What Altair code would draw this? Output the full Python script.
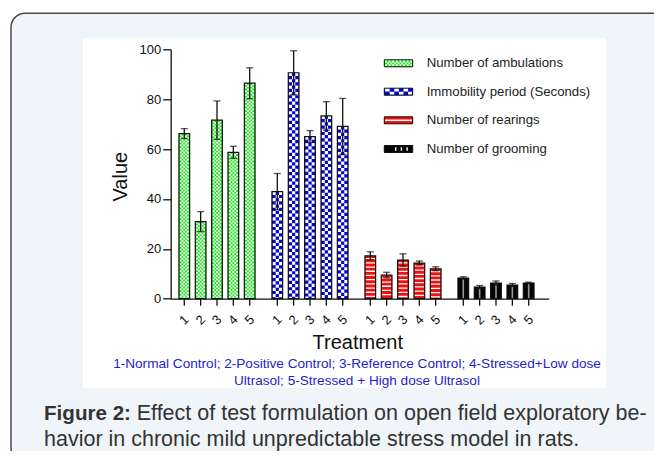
import altair as alt
import pandas as pd

# ---------------- data ----------------
groups = ["Number of ambulations", "Immobility period (Seconds)",
          "Number of rearings", "Number of grooming"]
treatments = ["1", "2", "3", "4", "5"]
ambulations = [66.2, 30.9, 71.6, 58.7, 86.4]
ambulations_err = [2.0, 4.0, 7.7, 2.4, 6.2]
immobility = [42.9, 90.6, 65.0, 73.3, 69.1]
immobility_err = [7.3, 8.8, 2.4, 5.7, 11.2]
rearings = [17.2, 9.5, 15.5, 14.3, 12.0]
rearings_err = [1.6, 1.1, 2.5, 0.8, 0.8]
grooming = [8.3, 4.7, 6.3, 5.5, 6.3]
grooming_err = [0.5, 0.6, 0.8, 0.6, 0.3]
y_ticks = [0, 20, 40, 60, 80, 100]
y_title = "Value"
x_title = "Treatment"
footnote = ["1-Normal Control; 2-Positive Control; 3-Reference Control; 4-Stressed+Low dose",
            "Ultrasol; 5-Stressed + High dose Ultrasol"]
caption_bold = "Figure 2:"
caption_lines = ["Effect of test formulation on open field exploratory be-",
                 "havior in chronic mild unpredictable stress model in rats."]

colors = ["#1fe31f", "#0606c6", "#f01010", "#050505"]

rows = []
for g, vals, errs in zip(groups,
                         [ambulations, immobility, rearings, grooming],
                         [ambulations_err, immobility_err, rearings_err, grooming_err]):
    for t, v, e in zip(treatments, vals, errs):
        rows.append({"group": g, "treatment": t, "value": v, "lo": v - e, "hi": v + e})
df = pd.DataFrame(rows)
one = pd.DataFrame({"_": [0]})

FONT = "Liberation Sans"
W, H = 378, 249.4
INK = "#111111"

X = alt.X("group:N", sort=groups,
          scale=alt.Scale(domain=groups, paddingInner=0.1817, paddingOuter=0.1231, align=0.36),
          axis=alt.Axis(labels=False, ticks=False, title=None, domain=True, zindex=1,
                        domainColor=INK, domainWidth=1.3, grid=False))
XO = alt.XOffset("treatment:N", sort=treatments,
                 scale=alt.Scale(domain=treatments, paddingInner=0.346, paddingOuter=0))
yscale = alt.Scale(domain=[0, 100], nice=False)
yaxis = alt.Axis(values=y_ticks, tickSize=8, tickWidth=1.3, tickColor=INK, zindex=1,
                 domainColor=INK, domainWidth=1.3, labelFontSize=13, labelFont=FONT,
                 labelColor=INK, labelPadding=2, grid=False, title=None)


def Y(field):
    return alt.Y(field + ":Q", scale=yscale, axis=yaxis, title=None)


base = alt.Chart(df)


def sub(i):
    return base.transform_filter(alt.datum.group == groups[i])


layers = []

# frame of the page and white figure area
layers.append(alt.Chart(one).mark_rect(cornerRadius=14, fill="#f0f5f9", stroke="#4a4a4a",
                                        strokeWidth=1.5).encode(
    x=alt.value(-159.7), x2=alt.value(509.3), y=alt.value(-36.0), y2=alt.value(412.7)))
layers.append(alt.Chart(one).mark_rect(fill="white").encode(
    x=alt.value(-87.7), x2=alt.value(435.3), y=alt.value(-11.3), y2=alt.value(338.7)))

# bar fills
layers.append(base.mark_bar(strokeWidth=0).encode(
    x=X, xOffset=XO, y=Y("value"),
    color=alt.Color("group:N", scale=alt.Scale(domain=groups, range=colors), legend=None)))


def prule(i, width, color, dash=None, phase=0):
    kw = dict(strokeWidth=width, color=color, strokeCap="butt")
    if dash is not None:
        kw["strokeDash"] = dash
        kw["strokeDashOffset"] = phase
    return sub(i).mark_rule(**kw).encode(x=X, xOffset=XO, y=Y("value"), y2=alt.datum(0))


# green fine checker (5 columns)
c = 1.8
layers.append(prule(0, 5 * c, "white", [c, c], 0))
layers.append(prule(0, 3 * c, colors[0]))
layers.append(prule(0, 3 * c, "white", [c, c], c))
layers.append(prule(0, c, colors[0]))
layers.append(prule(0, c, "white", [c, c], 0))
# blue checker (3 columns)
b = 3.2
layers.append(prule(1, 3 * b, "white", [b, b], 0))
layers.append(prule(1, b, colors[1]))
layers.append(prule(1, b, "white", [b, b], b))
# red horizontal stripes
layers.append(prule(2, 9.4, "white", [1.3, 2.9], 2.0))
# black: light vertical stripe
layers.append(prule(3, 1.6, "#9a9a9a"))

# bar outlines
layers.append(base.mark_bar(fill="transparent", stroke=INK, strokeWidth=1.2).encode(
    x=X, xOffset=XO, y=Y("value")))

# error bars
layers.append(base.mark_rule(color=INK, strokeWidth=1.3).encode(
    x=X, xOffset=XO, y=Y("lo"), y2=alt.Y2("hi:Q")))
layers.append(base.mark_tick(orient="horizontal", size=7, thickness=1.3, color=INK).encode(
    x=X, xOffset=XO, y=Y("hi")))
layers.append(base.mark_tick(orient="horizontal", size=7, thickness=1.3, color=INK).encode(
    x=X, xOffset=XO, y=Y("lo")))

# x ticks and rotated labels per bar
layers.append(base.mark_rule(color=INK, strokeWidth=1.3).encode(
    x=X, xOffset=XO, y=alt.value(H), y2=alt.value(H + 7)))
layers.append(base.mark_text(angle=315, fontSize=13, font=FONT, color=INK,
                             align="center", baseline="middle").encode(
    x=X, xOffset=XO, y=alt.value(H + 21.3), text="treatment:N"))

# legend (custom, with patterned swatches)
lx, lx2 = 213.6, 242.0
rows_y = [14.0, 42.4, 71.0, 99.7]
for i, (g, yc) in enumerate(zip(groups, rows_y)):
    layers.append(alt.Chart(one).mark_rect(fill=colors[i], stroke=INK, strokeWidth=1.0).encode(
        x=alt.value(lx), x2=alt.value(lx2), y=alt.value(yc - 3.5), y2=alt.value(yc + 3.5)))
    if i == 0:
        for k, ph in enumerate([0, 1.8, 0]):
            yy = yc - 1.8 + 1.8 * k
            layers.append(alt.Chart(one).mark_rule(color="white", strokeWidth=1.8,
                                                   strokeDash=[1.8, 1.8], strokeDashOffset=ph).encode(
                x=alt.value(lx + 0.8), x2=alt.value(lx2 - 0.8), y=alt.value(yy)))
    elif i == 1:
        for k, ph in enumerate([0, 4.6]):
            yy = yc - 1.5 + 3.0 * k
            layers.append(alt.Chart(one).mark_rule(color="white", strokeWidth=2.8,
                                                   strokeDash=[4.6, 4.6], strokeDashOffset=ph).encode(
                x=alt.value(lx + 0.8), x2=alt.value(lx2 - 0.8), y=alt.value(yy)))
    elif i == 2:
        layers.append(alt.Chart(one).mark_rule(color="white", strokeWidth=1.5).encode(
            x=alt.value(lx + 0.8), x2=alt.value(lx2 - 0.8), y=alt.value(yc)))
    else:
        layers.append(alt.Chart(one).mark_rule(color="white", strokeWidth=3.6,
                                               strokeDash=[1.4, 4.3]).encode(
            x=alt.value(224.3), x2=alt.value(238.0), y=alt.value(yc)))
    layers.append(alt.Chart(one).mark_text(align="left", baseline="middle", fontSize=13.2,
                                           font=FONT, color="#222222").encode(
        x=alt.value(256.0), y=alt.value(yc), text=alt.value(g)))

# axis titles
layers.append(alt.Chart(one).mark_text(angle=270, align="center", baseline="alphabetic",
                                       fontSize=20, font=FONT, color=INK).encode(
    x=alt.value(-44.0), y=alt.value(127.4), text=alt.value(y_title)))
layers.append(alt.Chart(one).mark_text(align="center", baseline="middle",
                                       fontSize=20, font=FONT, color=INK).encode(
    x=alt.value(187.1), y=alt.value(294.0), text=alt.value(x_title)))

# footnote in blue
for line, yy in zip(footnote, [314.7, 331.4]):
    layers.append(alt.Chart(one).mark_text(align="center", baseline="middle",
                                           fontSize=13.6, font=FONT, color="#2424c8").encode(
        x=alt.value(186.3), y=alt.value(yy), text=alt.value(line)))

# caption
layers.append(alt.Chart(one).mark_text(align="left", baseline="alphabetic", fontSize=20.6,
                                       font=FONT, fontWeight="bold", color="#333333").encode(
    x=alt.value(-126.7), y=alt.value(371.0), text=alt.value(caption_bold)))
layers.append(alt.Chart(one).mark_text(align="left", baseline="alphabetic", fontSize=21.5,
                                       font=FONT, color="#333333").encode(
    x=alt.value(-34.0), y=alt.value(371.0), text=alt.value(caption_lines[0])))
layers.append(alt.Chart(one).mark_text(align="left", baseline="alphabetic", fontSize=21.5,
                                       font=FONT, color="#333333").encode(
    x=alt.value(-126.7), y=alt.value(396.5), text=alt.value(caption_lines[1])))

chart = alt.layer(*layers).properties(
    width=W, height=H,
    padding={"left": 162.7, "top": 41.3, "right": 105.3, "bottom": 152.3},
    autosize=alt.AutoSizeParams(type="none"),
    background="white",
).configure_view(stroke=None)

chart.save("out.html", embed_options={"renderer": "svg", "actions": False})
